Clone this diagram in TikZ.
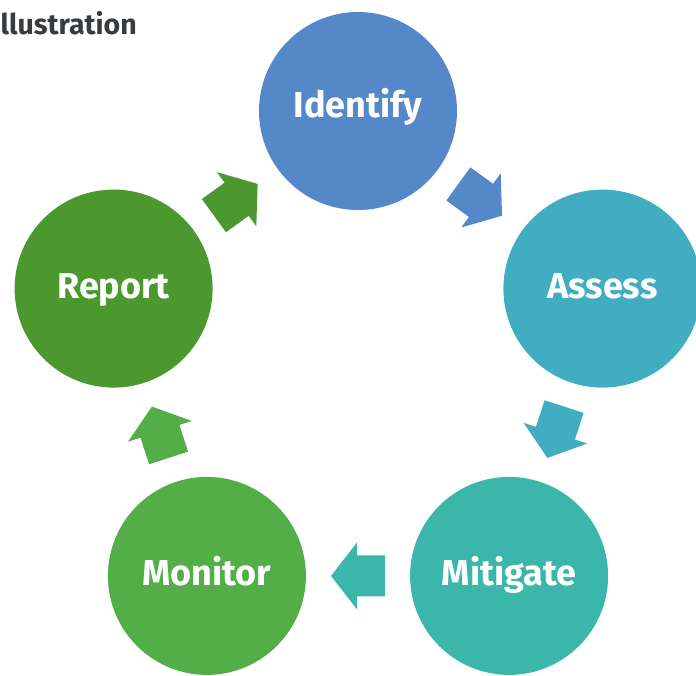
\documentclass[tikz,border=0pt]{standalone}
\usepackage{fontspec}
\setmainfont{Fira Sans}
\definecolor{cIdent}{HTML}{5588C9}
\definecolor{cAssess}{HTML}{41ADC1}
\definecolor{cMitig}{HTML}{3AB7AA}
\definecolor{cMonit}{HTML}{53AE48}
\definecolor{cReport}{HTML}{4A982E}
\definecolor{cTitle}{HTML}{383C3F}
\tikzset{
  stage/.style={circle, draw=none, minimum size=198pt, inner sep=0pt},
  stagelabel/.style={text=white, font=\bfseries\fontsize{36}{40}\selectfont, inner sep=0pt,
    text height=24.8pt, text depth=0pt, yshift=3pt},
  blockarr/.pic={\fill (27,0) -- (1,-33.5) -- (1,-20.5) -- (-27,-20.5) -- (-27,20.5) -- (1,20.5) -- (1,33.5) -- cycle;},
  arrpos/.style={midway, sloped, allow upside down},
}
\begin{document}
\begin{tikzpicture}[x=1pt, y=-1pt]
\useasboundingbox (0,0) rectangle (696,675);
\clip (0,0) rectangle (696,675);
\node[anchor=base east, text=cTitle, font=\bfseries\fontsize{28.5}{32}\selectfont, inner sep=0pt] (title) at (137,34) {Illustration};
\node[stage, fill=cIdent] (id) at (358,111) {};
\node[stage, fill=cAssess] (as) at (602.4,288.6) {};
\node[stage, fill=cMitig] (mi) at (509.1,575.9) {};
\node[stage, fill=cMonit] (mo) at (206.9,575.9) {};
\node[stage, fill=cReport] (re) at (113.6,288.6) {};
\node[stagelabel, yshift=3pt] (lid) at (id) {Identify};
\node[stagelabel] (las) at (as) {Assess};
\node[stagelabel] (lmi) at (mi) {Mitigate};
\node[stagelabel] (lmo) at (mo) {Monitor};
\node[stagelabel] (lre) at (re) {Report};
\path (id.center) -- (as.center) pic[arrpos, fill=cIdent] {blockarr};
\path (as.center) -- (mi.center) pic[arrpos, fill=cAssess] {blockarr};
\path (mi.center) -- (mo.center) pic[arrpos, fill=cMitig] {blockarr};
\path (mo.center) -- (re.center) pic[arrpos, fill=cMonit] {blockarr};
\path (re.center) -- (id.center) pic[arrpos, fill=cReport] {blockarr};
\end{tikzpicture}
\end{document}
